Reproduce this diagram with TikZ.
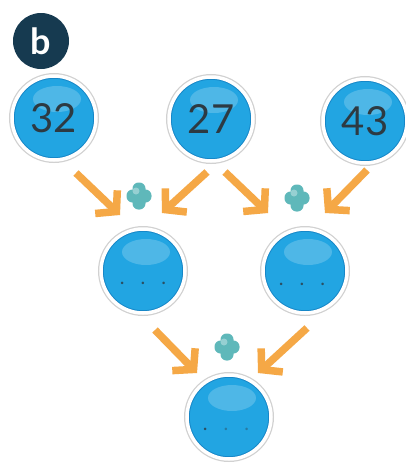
\documentclass[tikz,border=0pt]{standalone}
\usepackage{fontspec}
\setmainfont{Lato}
\usetikzlibrary{arrows.meta}
\definecolor{ballblue}{RGB}{34,165,226}
\definecolor{balldark}{RGB}{22,135,200}
\definecolor{numgray}{RGB}{45,58,66}
\definecolor{badgecol}{RGB}{22,58,80}
\definecolor{arrorange}{RGB}{245,168,70}
\definecolor{plusteal}{RGB}{95,184,186}
\tikzset{
  ball/.style={circle, minimum size=84pt, inner sep=0pt, fill=ballblue,
    preaction={draw=black!18, line width=6pt}, draw=white, line width=3.5pt,
    text=numgray, font=\fontsize{40}{40}\selectfont,
    path picture={
      \draw[balldark, line width=2.5pt] (path picture bounding box.center) circle (40.5pt);
      \fill[white, opacity=0.2] ([xshift=3pt,yshift=19pt]path picture bounding box.center) ellipse (24pt and 13pt);
    }},
  dotsnode/.style={inner sep=0pt, text=numgray!80!ballblue, font=\fontsize{20}{20}\selectfont},
  arr/.style={draw=arrorange, line width=7.5pt, -{Straight Barb[length=14pt, width=32pt]}},
  plusnode/.style={rectangle, minimum width=28pt, minimum height=30pt, inner sep=0pt,
    path picture={
      \fill[plusteal, rounded corners=6pt] ([xshift=-12.5pt,yshift=-6.5pt]path picture bounding box.center) rectangle ([xshift=12.5pt,yshift=6.5pt]path picture bounding box.center);
      \fill[plusteal, rounded corners=6pt] ([xshift=-6.5pt,yshift=-13.5pt]path picture bounding box.center) rectangle ([xshift=6.5pt,yshift=13.5pt]path picture bounding box.center);
      \fill[white, opacity=0.35] ([xshift=-3pt,yshift=5pt]path picture bounding box.center) circle (3.5pt);
    }},
  badge/.style={circle, minimum size=56pt, inner sep=0pt, fill=badgecol, text=white,
    font=\fontsize{36}{36}\selectfont\bfseries}
}
\begin{document}
\begin{tikzpicture}[x=1pt, y=-1pt]
\useasboundingbox (0,0) rectangle (406,469);
\fill[white] (0,0) rectangle (406,469);

\node[badge] (bdg) at (41,41) {b};

\node[ball] (n32) at (54,118) {32};
\node[ball] (n27) at (211,119) {27};
\node[ball] (n43) at (365,121) {43};

\node[ball] (m1) at (143,271) {};
\node[ball] (m2) at (305,271) {};
\node[ball] (bt) at (229,417) {};

\node[dotsnode] (d1) at (143,283) {.\hspace{16pt}.\hspace{16pt}.};
\node[dotsnode] (d2) at (302,284) {.\hspace{16pt}.\hspace{16pt}.};
\node[dotsnode] (d3) at (226,429) {.\hspace{16pt}\textcolor{numgray!40!ballblue}{.}\hspace{16pt}\textcolor{numgray!40!ballblue}{.}};

\node[plusnode] (p1) at (139,196) {};
\node[plusnode] (p2) at (297,198) {};
\node[plusnode] (p3) at (227,347) {};

\coordinate (a1s) at (76,173);  \coordinate (a1e) at (120,215);
\coordinate (a2s) at (207,172); \coordinate (a2e) at (162,213);
\coordinate (a3s) at (225,172); \coordinate (a3e) at (268,213);
\coordinate (a4s) at (367,170); \coordinate (a4e) at (325,213);
\coordinate (a5s) at (155,330); \coordinate (a5e) at (197,373);
\coordinate (a6s) at (307,328); \coordinate (a6e) at (258,373);

\draw[arr] (a1s) -- (a1e);
\draw[arr] (a2s) -- (a2e);
\draw[arr] (a3s) -- (a3e);
\draw[arr] (a4s) -- (a4e);
\draw[arr] (a5s) -- (a5e);
\draw[arr] (a6s) -- (a6e);
\end{tikzpicture}
\end{document}
